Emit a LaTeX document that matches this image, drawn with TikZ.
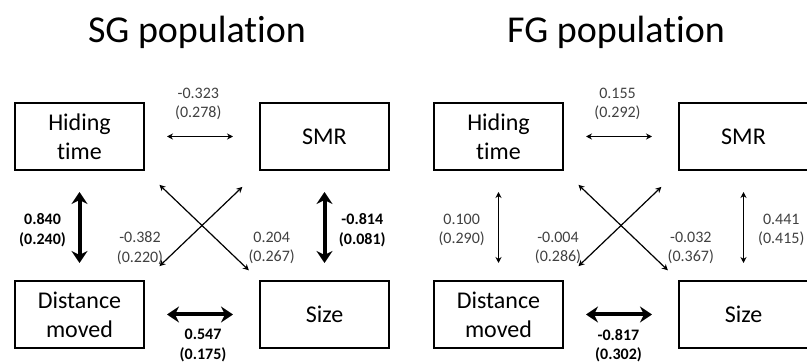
\documentclass[tikz,border=0pt]{standalone}
\usepackage{fontspec}
\setmainfont[Ligatures=NoCommon]{Carlito}
\usepackage{tikz}
\usetikzlibrary{arrows.meta,positioning}
\definecolor{Ink}{HTML}{404040}

\begin{document}
\begin{tikzpicture}[x=1pt, y=-1pt, node distance=109pt and 114pt,
    varbox/.style={draw, line width=2pt, minimum width=129pt, minimum height=67pt, align=center, inner sep=0pt, font=\fontsize{24}{29}\selectfont},
    ttl/.style={anchor=base, font=\fontsize{38}{46}\selectfont},
    lab/.style={align=center, inner sep=0pt, text=Ink, font=\fontsize{16}{19.5}\selectfont},
    labb/.style={lab, text=black, font=\fontsize{16}{19.5}\selectfont\bfseries},
    weak/.style={{Stealth[length=6pt,width=6pt]}-{Stealth[length=6pt,width=6pt]}, line width=1.2pt},
    strong/.style={{Stealth[length=12pt,width=16pt,inset=4pt]}-{Stealth[length=12pt,width=16pt,inset=4pt]}, line width=4pt}]
    \useasboundingbox (0,0) rectangle (807,363);
    % titles
    \node[ttl] (tSG) at (197,42.7) {SG population};
    \node[ttl] (tFG) at (616,42.7) {FG population};
    % SG boxes
    \node[varbox] (hidL) at (79.5,136.5) {Hiding\\time};
    \node[varbox, right=of hidL] (smrL) {SMR};
    \node[varbox, below=of hidL] (disL) {Distance\\moved};
    \node[varbox, below=of smrL] (sizL) {Size};
    % FG boxes
    \node[varbox] (hidR) at (498.5,136.5) {Hiding\\time};
    \node[varbox, right=of hidR] (smrR) {SMR};
    \node[varbox, below=of hidR] (disR) {Distance\\moved};
    \node[varbox, below=of smrR] (sizR) {Size};
    % SG arrows
    \draw[weak, shorten <=22pt, shorten >=26pt] (hidL) -- (smrL);
    \draw[strong, shorten <=21pt, shorten >=17pt] (hidL) -- (disL);
    \draw[strong, shorten <=21pt, shorten >=17pt] (smrL) -- (sizL);
    \draw[strong, shorten <=22pt, shorten >=26pt] (disL) -- (sizL);
    \draw[weak, shorten <=20pt, shorten >=14pt] (hidL.south east) -- (sizL.north west);
    \draw[weak, shorten <=23pt, shorten >=20pt] (smrL.south west) -- (disL.north east);
    % FG arrows
    \draw[weak, shorten <=22pt, shorten >=26pt] (hidR) -- (smrR);
    \draw[weak, shorten <=21pt, shorten >=17pt] (hidR) -- (disR);
    \draw[weak, shorten <=21pt, shorten >=17pt] (smrR) -- (sizR);
    \draw[strong, shorten <=22pt, shorten >=26pt] (disR) -- (sizR);
    \draw[weak, shorten <=20pt, shorten >=14pt] (hidR.south east) -- (sizR.north west);
    \draw[weak, shorten <=23pt, shorten >=20pt] (smrR.south west) -- (disR.north east);
    % SG estimates
    \node[lab] (eHS) at (198.3,104) {-0.323\\(0.278)};
    \node[labb] (eHD) at (42.5,230) {0.840\\(0.240)};
    \node[labb] (eSS) at (362.3,230) {-0.814\\(0.081)};
    \node[lab] (eSD) at (140,248) {-0.382\\(0.220)};
    \node[lab] (eHZ) at (271.7,248) {0.204\\(0.267)};
    \node[labb] (eDZ) at (203,345.5) {0.547\\(0.175)};
    % FG estimates
    \node[lab] (fHS) at (617.5,104) {0.155\\(0.292)};
    \node[lab] (fHD) at (461.7,230) {0.100\\(0.290)};
    \node[lab] (fSS) at (781.3,230) {0.441\\(0.415)};
    \node[lab] (fSD) at (558,248) {-0.004\\(0.286)};
    \node[lab] (fHZ) at (690.8,248) {-0.032\\(0.367)};
    \node[labb] (fDZ) at (618.5,345.5) {-0.817\\(0.302)};
\end{tikzpicture}
\end{document}
